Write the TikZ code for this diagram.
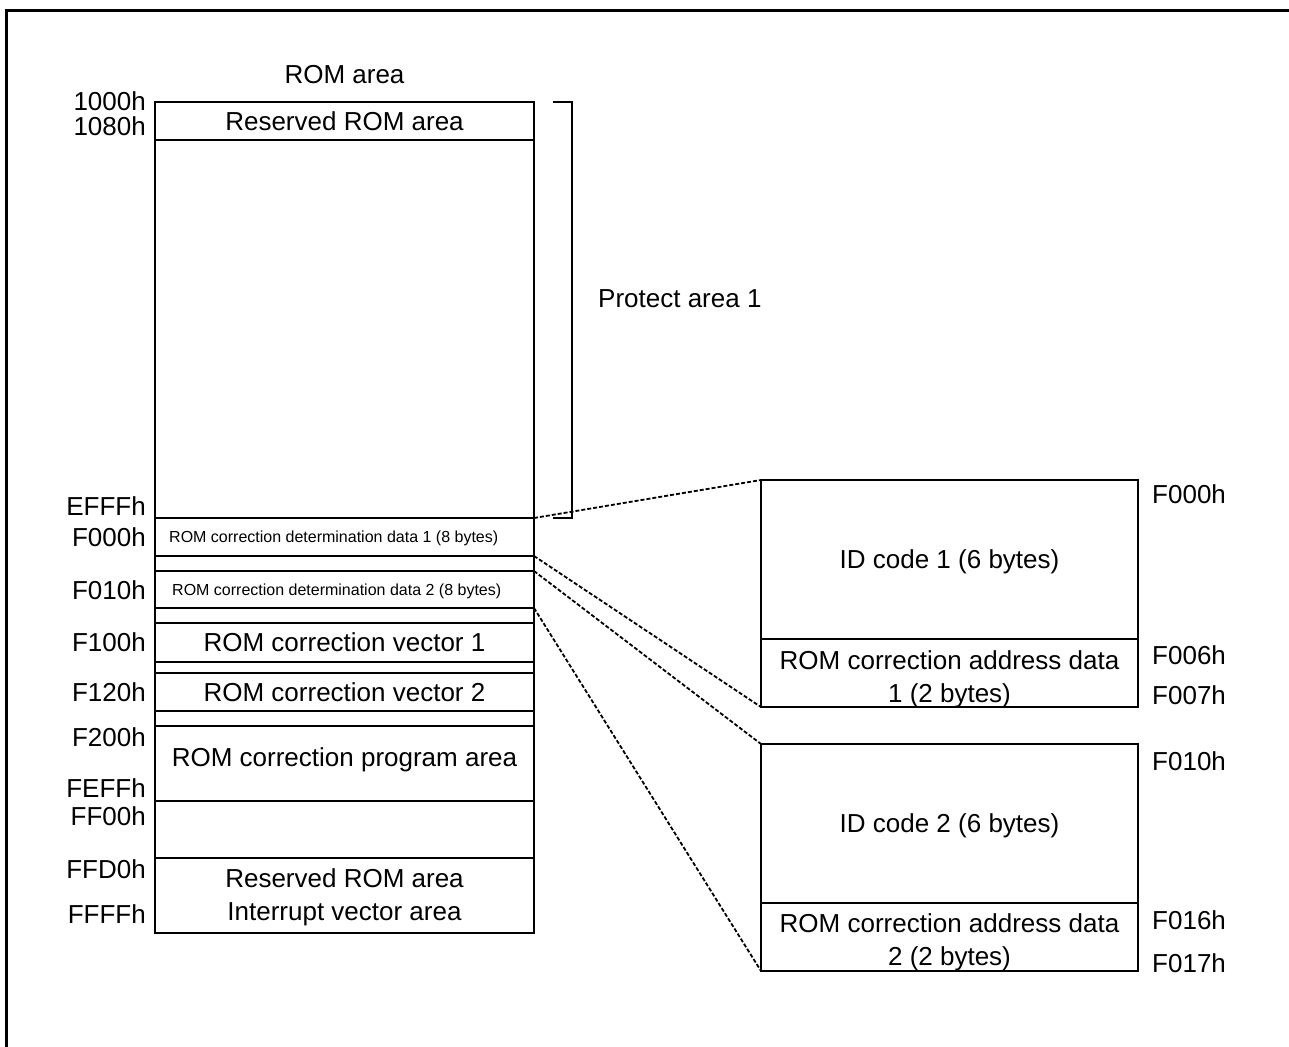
\documentclass[tikz,border=0pt]{standalone}
\usepackage{fontspec}
\setmainfont{Liberation Sans}
\usetikzlibrary{positioning}
\newcommand{\fsmain}{\fontsize{26}{33}\selectfont}
\newcommand{\fssmall}{\fontsize{16}{19}\selectfont}
\tikzset{
  txt/.style={font=\fsmain,text height=18.6pt,text depth=0pt,inner sep=0pt},
  txtsmall/.style={font=\fssmall,text height=11.5pt,text depth=0pt,inner sep=0pt},
  idbox/.style={draw,line width=1.5pt,minimum width=377pt,inner sep=0pt,outer sep=0pt,anchor=north west},
  lead/.style={line width=1.8pt,dash pattern=on 4pt off 2pt},
}
\begin{document}
\begin{tikzpicture}[x=1pt,y=-1pt]
  \clip (0,0) rectangle (1289,1046);
  % 外枠
  \draw[line width=3pt] (6.5,1100) -- (6.5,11) -- (1300,11);
  % ROM 領域
  \node[txt] (title) at (344.5,74) {ROM area};
  \draw[line width=1.5pt] (155,102) rectangle (534,933);
  \foreach \y in {140,518,556,571,608,623,662,673,711,726,801,858}
    \draw[line width=1.5pt] (155,\y) -- (534,\y);
  \node[txt] (rsv) at (344.5,121) {Reserved ROM area};
  \node[txtsmall,anchor=west] (dat1) at (169,537) {ROM correction determination data 1 (8 bytes)};
  \node[txtsmall,anchor=west] (dat2) at (172,590) {ROM correction determination data 2 (8 bytes)};
  \node[txt] (vec1) at (344.5,642) {ROM correction vector 1};
  \node[txt] (vec2) at (344.5,692) {ROM correction vector 2};
  \node[txt] (prog) at (344.5,757) {ROM correction program area};
  \node[font=\fsmain,align=center,inner sep=0pt] (intv) at (344.5,897) {Reserved ROM area\\Interrupt vector area};
  % アドレス
  \foreach \y/\a in {101/1000h,126/1080h,506/EFFFh,537/F000h,590/F010h,642/F100h,
                     692/F120h,737/F200h,788/FEFFh,816/FF00h,869/FFD0h,914/FFFFh}
    \node[txt,anchor=east] (l\a) at (146,\y) {\a};
  % プロテクト領域
  \draw[line width=1.5pt] (553,102) -- (572,102) -- (572,518) -- (553,518);
  \node[txt,anchor=west] (prot) at (598,298) {Protect area 1};
  % 判定データの詳細
  \node[idbox,minimum height=159pt] (id1) at (761,480) {};
  \node[idbox,minimum height=68pt] (ad1) at (761,639) {};
  \node[idbox,minimum height=159pt] (id2) at (761,744) {};
  \node[idbox,minimum height=68pt] (ad2) at (761,903) {};
  \node[txt] (id1t) at (id1.center) {ID code 1 (6 bytes)};
  \node[txt] (id2t) at (id2.center) {ID code 2 (6 bytes)};
  \node[font=\fsmain,align=center,inner sep=0pt] (ad1t) at (949.5,679) {ROM correction address data\\1 (2 bytes)};
  \node[font=\fsmain,align=center,inner sep=0pt] (ad2t) at (949.5,942) {ROM correction address data\\2 (2 bytes)};
  \foreach \y/\a in {494/F000h,655/F006h,695/F007h,761/F010h,920/F016h,963/F017h}
    \node[txt,anchor=west] (r\a) at (1152,\y) {\a};
  % 引き出し線
  \coordinate (e0) at (534,518);
  \coordinate (e1) at (534,556);
  \coordinate (e2) at (534,571);
  \coordinate (e3) at (534,608);
  \draw[lead] (e0) -- (id1.north west);
  \draw[lead] (e1) -- (ad1.south west);
  \draw[lead] (e2) -- (id2.north west);
  \draw[lead] (e3) -- (ad2.south west);
\end{tikzpicture}
\end{document}
